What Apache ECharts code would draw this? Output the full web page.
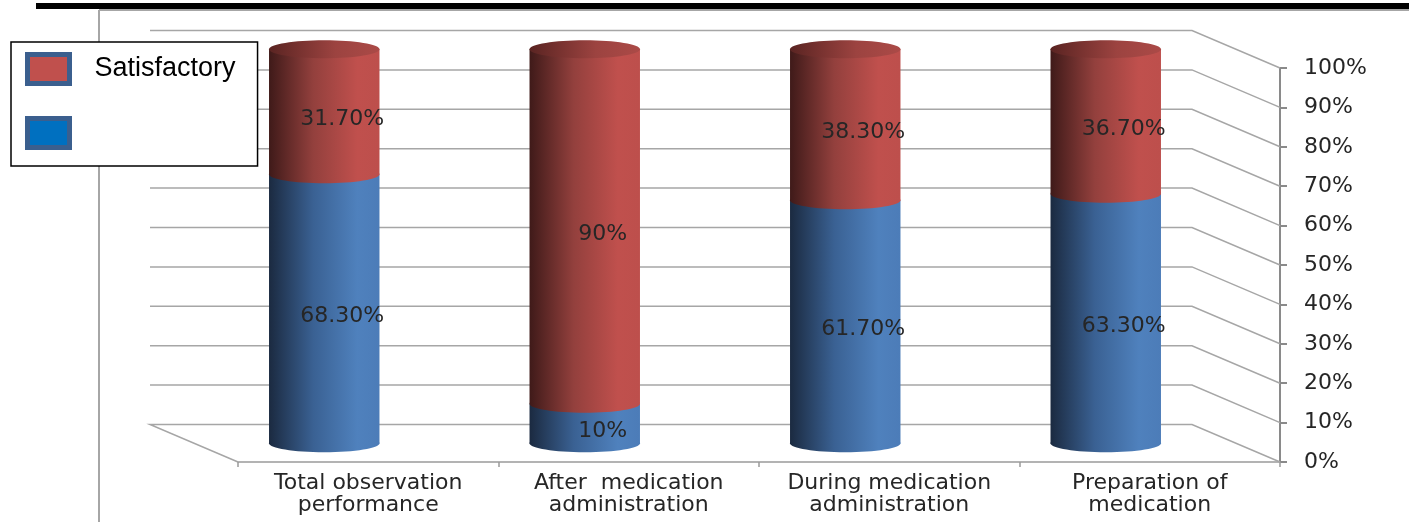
<!DOCTYPE html>
<html>
<head>
<meta charset="utf-8">
<script src="https://cdn.jsdelivr.net/npm/echarts@6/dist/echarts.min.js"></script>
<style>
  html, body { margin: 0; padding: 0; background: #fff; }
  #main { width: 1409px; height: 522px; }
</style>
</head>
<body>
<div id="main"></div>
<script>
// chart values
var categories = ['Total observation\nperformance', 'After  medication\nadministration', 'During medication\nadministration', 'Preparation of\nmedication'];
var notSatisfactory = [68.3, 10, 61.7, 63.3];   // blue, has no legend text
var satisfactory = [31.7, 90, 38.3, 36.7];      // red
var yTicks = [0, 10, 20, 30, 40, 50, 60, 70, 80, 90, 100];

// depth of the fake 3d box (back wall offset from the front plane)
var DX = -88, DY = -37.5;
var FONT = 'DejaVu Sans';

function pctText(v) {
    return Number.isInteger(v) ? v + '%' : v.toFixed(2) + '%';
}

function stackData(base, vals) {
    var arr = [];
    vals.map(function (v, i) {
        var b = base ? base[i] : 0;
        arr.push([i, b, b + v, v]);
    });
    return arr;
}

function cylinder(side, top) {
    return function (params, api) {
        var i = api.value(0);
        var p0 = api.coord([i, api.value(1)]);
        var p1 = api.coord([i, api.value(2)]);
        var cx = p0[0] + DX / 2;
        var yb = p0[1] + DY / 2;
        var yt = p1[1] + DY / 2;
        var rx = api.size([1, 0])[0] * 0.212;
        var ry = 9;
        var grad = { type: 'linear', x: 0, y: 0, x2: 1, y2: 0, colorStops: side };
        var kids = [
            { type: 'ellipse', shape: { cx: cx, cy: yb, rx: rx, ry: ry }, style: { fill: grad } },
            { type: 'rect', shape: { x: cx - rx, y: yt, width: rx * 2, height: yb - yt }, style: { fill: grad } }
        ];
        if (top) {
            kids.push({ type: 'ellipse', shape: { cx: cx, cy: yt, rx: rx, ry: ry },
                style: { fill: { type: 'linear', x: 0, y: 0, x2: 1, y2: 0, colorStops: top } } });
        }
        kids.push({ type: 'text', style: {
            text: pctText(api.value(3)), x: cx + 18, y: (yt + yb) / 2 + 8,
            align: 'center', verticalAlign: 'middle', fill: '#262626', font: '22px "' + FONT + '"' } });
        return { type: 'group', children: kids };
    };
}

var blueSide = [
    { offset: 0, color: '#1b2a40' }, { offset: 0.4, color: '#3a6193' },
    { offset: 0.8, color: '#4f81bd' }, { offset: 1, color: '#4c7cb8' }
];
var redSide = [
    { offset: 0, color: '#3f1a19' }, { offset: 0.4, color: '#93403d' },
    { offset: 0.8, color: '#c0504d' }, { offset: 1, color: '#bd4f4c' }
];
var redTop = [
    { offset: 0, color: '#5a2422' }, { offset: 0.6, color: '#9c4340' }, { offset: 1, color: '#ab4a47' }
];

var chart = echarts.init(document.getElementById('main'));
var option = {
    animation: false,
    graphic: [
        { type: 'rect', z: 0, shape: { x: 36, y: 3, width: 1373, height: 6 }, style: { fill: '#000' } },
        { type: 'line', z: 0, shape: { x1: 99, y1: 10, x2: 1409, y2: 10 }, style: { stroke: '#a6a6a6', lineWidth: 2 } },
        { type: 'line', z: 0, shape: { x1: 99, y1: 10, x2: 99, y2: 522 }, style: { stroke: '#a6a6a6', lineWidth: 2 } }
    ],
    legend: {
        orient: 'vertical',
        left: 11,
        top: 42,
        z: 10,
        padding: [10, 22, 16, 14],
        itemWidth: 42,
        itemHeight: 29,
        itemGap: 30,
        backgroundColor: '#fff',
        borderColor: '#000',
        borderWidth: 1.5,
        textStyle: { fontFamily: 'Liberation Sans', fontSize: 27, color: '#000', padding: [0, 0, 0, 20] },
        data: [
            { name: 'Satisfactory', icon: 'rect', itemStyle: { color: '#c0504d', borderColor: '#3b5f8e', borderWidth: 5 } },
            { name: ' ', icon: 'rect', itemStyle: { color: '#0070c0', borderColor: '#3b5f8e', borderWidth: 5 } }
        ]
    },
    grid: { left: 238, right: 129, top: 68, bottom: 60 },
    xAxis: {
        type: 'category',
        data: categories,
        axisLine: { lineStyle: { color: '#9a9a9a', width: 1.5 } },
        axisTick: { show: true, length: 5, lineStyle: { color: '#9a9a9a', width: 1.5 } },
        axisLabel: { interval: 0, margin: 10, fontFamily: FONT, fontSize: 22, lineHeight: 22, color: '#262626' }
    },
    yAxis: {
        type: 'value',
        position: 'right',
        min: 0,
        max: 100,
        interval: 10,
        axisLine: { show: true, lineStyle: { color: '#8a8a8a', width: 2 } },
        axisTick: { show: true, length: 7, lineStyle: { color: '#8a8a8a', width: 2 } },
        axisLabel: { formatter: '{value}%', margin: 24, fontFamily: FONT, fontSize: 22, color: '#262626' },
        splitLine: { show: false }
    },
    series: [
        {
            // back wall / floor lines, one per tick
            type: 'custom',
            name: 'walls',
            silent: true,
            z: 1,
            data: yTicks.map(function (v) { return [0, v]; }),
            encode: { x: 0, y: 1 },
            renderItem: function (params, api) {
                var y = api.coord([0, api.value(1)])[1];
                var x0 = params.coordSys.x, x1 = x0 + params.coordSys.width;
                var pts = [[x0 + DX, y + DY], [x1 + DX, y + DY], [x1, y]];
                if (api.value(1) === 0) pts.unshift([x0, y]);
                return { type: 'polyline', shape: { points: pts },
                    style: { stroke: '#a6a6a6', lineWidth: 1.5, fill: null } };
            }
        },
        {
            type: 'custom',
            name: ' ',
            z: 2,
            data: stackData(null, notSatisfactory),
            encode: { x: 0, y: [1, 2] },
            itemStyle: { color: '#0070c0' },
            renderItem: cylinder(blueSide, null)
        },
        {
            type: 'custom',
            name: 'Satisfactory',
            z: 2,
            data: stackData(notSatisfactory, satisfactory),
            encode: { x: 0, y: [1, 2] },
            itemStyle: { color: '#c0504d' },
            renderItem: cylinder(redSide, redTop)
        }
    ]
};
chart.setOption(option);
window.addEventListener('resize', function () {
    chart.resize();
});
</script>
</body>
</html>
